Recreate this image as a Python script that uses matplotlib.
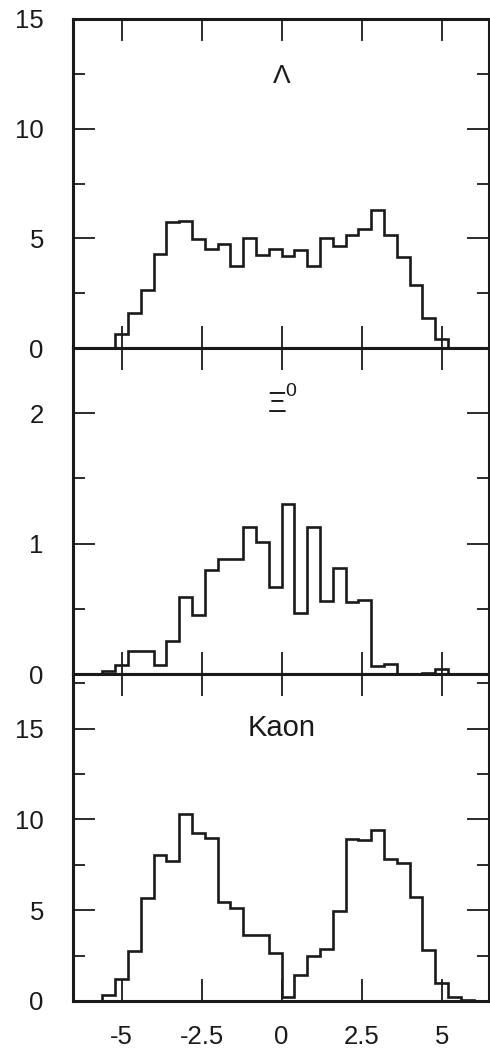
import numpy as np
import matplotlib
matplotlib.use("Agg")
import matplotlib.pyplot as plt
from matplotlib.ticker import MultipleLocator

plt.rcParams['font.family'] = ['Liberation Sans', 'DejaVu Sans']

# ---- data (bin width 0.4, edges from -6.0 to 6.0) ----
bin_start = -6.0
bin_width = 0.4
n_bins = 30

lambda_counts = [0, 0, 0.63, 1.61, 2.63, 4.29, 5.74, 5.81, 4.98, 4.51, 4.76, 3.75,
                 5.03, 4.23, 4.51, 4.20, 4.45, 3.75, 5.02, 4.66, 5.14, 5.42, 6.29,
                 5.14, 4.14, 2.87, 1.38, 0.41, 0, 0]
xi0_counts = [0, 0.02, 0.07, 0.175, 0.175, 0.067, 0.25, 0.59, 0.45, 0.80, 0.88, 0.88,
              1.13, 1.01, 0.67, 1.30, 0.47, 1.13, 0.56, 0.81, 0.55, 0.57, 0.06,
              0.08, 0, 0, 0.01, 0.04, 0, 0]
kaon_counts = [0, 0.33, 1.20, 2.73, 5.67, 8.01, 7.73, 10.31, 9.26, 8.99, 5.45, 5.12,
               3.65, 3.65, 2.63, 0.20, 1.44, 2.50, 2.85, 4.94, 8.93, 8.86, 9.39,
               7.79, 7.61, 5.73, 2.78, 1.01, 0.24, 0.06]

x_ticks = [-5, -2.5, 0, 2.5, 5]
x_tick_labels = ['-5', '-2.5', '0', '2.5', '5']

edges = bin_start + bin_width * np.arange(n_bins + 1)

W, H = 490, 1053
fig = plt.figure(figsize=(W / 100, H / 100), dpi=100)

left = 73 / W
width = 416 / W
panels = [
    # (top_px, bottom_px, counts, ylim, major, minor, ticklabels, label)
    (19, 348, lambda_counts, (0, 15), 5, 2.5, ['0', '5', '10', '15'], 'Λ'),
    (348, 674, xi0_counts, (0, 2.5), 1, 0.5, ['0', '1', '2'], 'Ξ'),
    (674, 1001, kaon_counts, (0, 18.0), 5, 2.5, ['0', '5', '10', '15'], 'Kaon'),
]

axes = []
for i, (top, bot, counts, ylim, maj, mnr, ylabels, label) in enumerate(panels):
    ax = fig.add_axes([left, 1 - bot / H, width, (bot - top) / H])
    ax.stairs(counts, edges, color='#1a1a1a', lw=1.9, baseline=0)
    ax.set_xlim(-6.52, 6.48)
    ax.set_ylim(*ylim)
    ax.yaxis.set_major_locator(MultipleLocator(maj))
    ax.yaxis.set_minor_locator(MultipleLocator(mnr))
    yt = [k * maj for k in range(len(ylabels))]
    ax.set_yticks(yt)
    ax.set_yticklabels(ylabels)
    ax.set_xticks(x_ticks)
    ax.xaxis.set_minor_locator(plt.NullLocator())
    ax.tick_params(axis='both', which='major', direction='in', length=16, width=1.3,
                   top=True, right=True, labelsize=18.5, colors='#1a1a1a')
    ax.tick_params(axis='y', which='minor', direction='in', length=8.5, width=1.3,
                   left=True, right=True, colors='#1a1a1a')
    ax.tick_params(axis='y', which='major', pad=21)
    ax.tick_params(axis='x', which='major', pad=17)
    for s in ax.spines.values():
        s.set_linewidth(2.2)
        s.set_color('#1a1a1a')
    if i < 2:
        ax.set_xticklabels([])
    else:
        ax.set_xticklabels(x_tick_labels)
    axes.append(ax)

ax1, ax2, ax3 = axes
ax1.text(0.0, 12.4, 'Λ', ha='center', va='center', fontsize=19, color='#1a1a1a')
ax2.text(-0.15, 2.07, 'Ξ', ha='center', va='center', fontsize=21, color='#1a1a1a')
ax2.text(0.28, 2.17, '0', ha='center', va='center', fontsize=14, color='#1a1a1a')
ax3.text(0.0, 15.0, 'Kaon', ha='center', va='center', fontsize=21, color='#1a1a1a')

fig.savefig('out.png', dpi=100)
